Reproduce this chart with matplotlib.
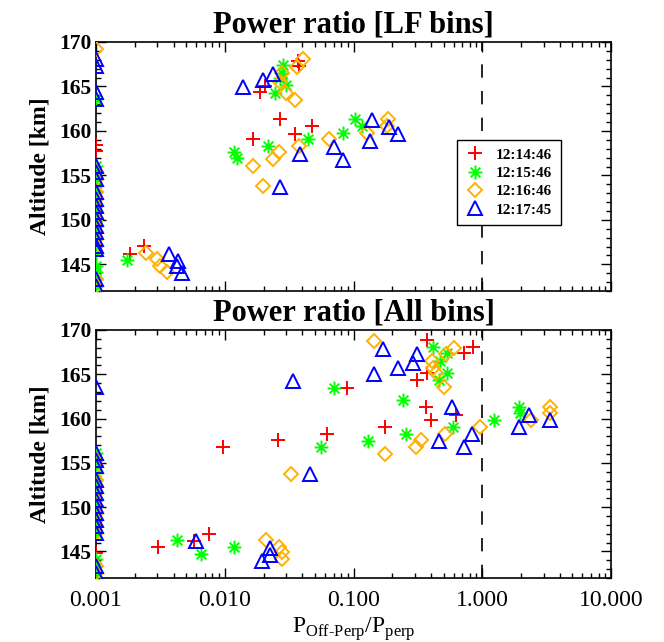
import numpy as np
import matplotlib
matplotlib.use('Agg')
import matplotlib.pyplot as plt
from matplotlib.path import Path
from matplotlib.ticker import MultipleLocator, FixedLocator, LogLocator, NullFormatter

plt.rcParams['font.family'] = 'Liberation Serif'
plt.rcParams['mathtext.fontset'] = 'custom'
plt.rcParams['mathtext.rm'] = 'Liberation Serif'

# values at or below the floor are drawn on the left axis
FLOOR = 0.001

labels = ['12:14:46', '12:15:46', '12:16:46', '12:17:45']

# ---- LF bins (top panel) ----
red_top_alt = [167.9, 167.3, 165.0, 164.4, 161.3, 160.6, 159.7, 159.1, 147.1, 146.2]
red_top_val = [0.0372, 0.038, 0.0206, 0.0188, 0.0269, 0.0473, 0.0351, 0.0167, 0.00236, 0.00184]
red_top_edge = [158.4, 157.7]

green_top_alt = [167.4, 166.5, 165.9, 165.2, 164.3, 161.3, 160.6, 159.8, 159.1, 158.3, 157.6, 156.9, 145.5]
green_top_val = [0.0285, 0.028, 0.027, 0.030, 0.0245, 0.103, 0.116, 0.0824, 0.0446, 0.0218, 0.0118, 0.0124, 0.00173]
green_top_edge = [163.6, 156.1, 155.35, 154.6, 153.85, 153.1, 152.35, 151.6, 150.85, 150.1, 149.35,
                  148.6, 147.85, 147.1, 146.35, 144.85, 144.1, 143.35, 142.6]

orange_top_alt = [168.1, 167.2, 166.5, 165.5, 164.3, 163.5, 161.3, 160.6, 159.8, 159.1, 158.3, 157.6,
                  156.8, 156.1, 153.8, 146.3, 145.6, 144.8, 144.1]
orange_top_val = [0.0403, 0.0362, 0.0277, 0.0269, 0.030, 0.0351, 0.186, 0.181, 0.127, 0.0649, 0.0379,
                  0.0265, 0.0238, 0.0167, 0.0197, 0.00244, 0.00296, 0.00314, 0.00358]
orange_top_edge = [169.2, 155.35, 154.6, 153.1, 152.35, 151.6, 150.85, 150.1, 149.35, 148.6, 147.85,
                   147.1, 143.35, 142.6]

blue_top_alt = [166.4, 165.7, 164.9, 161.2, 160.4, 159.7, 158.9, 158.2, 157.4, 156.7, 153.7,
                146.2, 145.4, 144.8, 144.0]
blue_top_val = [0.0236, 0.0199, 0.0138, 0.138, 0.19, 0.223, 0.134, 0.0706, 0.0384, 0.0834, 0.0269,
                0.00369, 0.00436, 0.00423, 0.00463]
blue_top_edge = [168.1, 167.35, 164.35, 163.6, 156.1, 155.35, 154.6, 153.1, 152.35, 151.6, 150.85,
                 150.1, 149.35, 148.6, 147.85, 147.1, 146.7, 143.35, 142.6]

# ---- All bins (bottom panel) ----
red_bot_alt = [168.9, 168.1, 167.4, 165.2, 164.4, 163.5, 161.3, 160.4, 159.8, 159.1, 158.3, 157.6,
               156.8, 147.0, 146.2, 145.5]
red_bot_val = [0.37, 0.843, 0.72, 0.37, 0.31, 0.0885, 0.366, 0.625, 0.40, 0.175, 0.0627, 0.0258,
               0.00975, 0.00759, 0.0058, 0.00301]
red_bot_edge = [144.85]

green_bot_alt = [168.1, 167.4, 166.5, 165.1, 164.3, 163.5, 162.1, 161.3, 160.6, 159.8, 159.1, 158.3,
                 157.5, 156.8, 146.3, 145.5, 144.7]
green_bot_val = [0.412, 0.53, 0.47, 0.53, 0.458, 0.071, 0.244, 1.94, 1.97, 1.24, 0.589, 0.256,
                 0.130, 0.056, 0.00428, 0.0118, 0.00655]
green_bot_edge = [156.1, 155.35, 154.6, 153.85, 153.1, 152.35, 151.6, 150.85, 150.1, 149.35, 148.6,
                  147.85, 147.1, 144.1, 143.35, 142.6]

orange_bot_alt = [168.8, 168.0, 167.3, 166.5, 165.7, 165.1, 163.6, 161.3, 160.6, 159.8, 159.0, 158.3,
                  157.6, 156.8, 156.0, 153.7, 146.3, 145.5, 144.9, 144.1]
orange_bot_val = [0.143, 0.6, 0.52, 0.405, 0.416, 0.44, 0.50, 3.36, 3.36, 2.38, 0.962, 0.514,
                  0.332, 0.305, 0.175, 0.0327, 0.0209, 0.0265, 0.0277, 0.0277]
orange_bot_edge = [155.35, 154.6, 153.1, 152.35, 151.6, 150.85, 150.1, 149.35, 148.6, 147.85, 147.1,
                   143.35, 142.6]

blue_bot_alt = [167.9, 167.3, 166.3, 165.7, 165.0, 164.2, 161.3, 160.4, 159.8, 159.0, 158.3, 157.5,
                156.8, 153.7, 146.2, 145.4, 144.6, 143.9]
blue_bot_val = [0.169, 0.31, 0.29, 0.223, 0.143, 0.0341, 0.58, 2.31, 3.36, 1.94, 0.826, 0.464,
                0.72, 0.0459, 0.00598, 0.0224, 0.0224, 0.0194]
blue_bot_edge = [163.6, 156.1, 155.35, 154.6, 153.1, 152.35, 151.6, 150.85, 150.1, 149.35, 148.6,
                 147.85, 147.1, 143.35, 142.6]

# IDL style asterisk (plus and cross)
star = Path([(-1, 0), (1, 0), (0, -1), (0, 1), (-0.7, -0.7), (0.7, 0.7), (-0.7, 0.7), (0.7, -0.7)],
            [Path.MOVETO, Path.LINETO] * 4)

styles = [
    dict(marker='+', color='#ff0000', ms=10),
    dict(marker=star, color='#00ff00', ms=10),
    dict(marker='D', color='#ffb000', ms=7.5),
    dict(marker='^', color='#0000ff', ms=10),
]

top_series = [(red_top_alt, red_top_val, red_top_edge),
              (green_top_alt, green_top_val, green_top_edge),
              (orange_top_alt, orange_top_val, orange_top_edge),
              (blue_top_alt, blue_top_val, blue_top_edge)]
bot_series = [(red_bot_alt, red_bot_val, red_bot_edge),
              (green_bot_alt, green_bot_val, green_bot_edge),
              (orange_bot_alt, orange_bot_val, orange_bot_edge),
              (blue_bot_alt, blue_bot_val, blue_bot_edge)]

fig = plt.figure(figsize=(6.64, 6.42), dpi=100)
ax1 = fig.add_axes([0.1446, 0.5467, 0.7756, 0.3879])
ax2 = fig.add_axes([0.1446, 0.0997, 0.7756, 0.3863])


def draw(ax, series, title):
    handles = []
    for (alt, val, edge), st, lab in zip(series, styles, labels):
        h, = ax.plot(val, alt, linestyle='none', marker=st['marker'], ms=st['ms'],
                     mfc='none', mec=st['color'], mew=1.4, label=lab, zorder=3)
        ax.plot([FLOOR] * len(edge), edge, linestyle='none', marker=st['marker'], ms=st['ms'],
                mfc='none', mec=st['color'], mew=1.4, zorder=3)
        handles.append(h)
    ax.axvline(1.0, color='black', lw=1.2, dashes=(8, 8), zorder=1)
    ax.set_xscale('log')
    ax.set_xlim(0.001, 10)
    ax.set_ylim(142, 170)
    ax.yaxis.set_major_locator(MultipleLocator(5))
    ax.yaxis.set_minor_locator(MultipleLocator(1))
    ax.xaxis.set_major_locator(FixedLocator([0.001, 0.01, 0.1, 1, 10]))
    ax.xaxis.set_minor_locator(LogLocator(base=10, subs=np.arange(2, 10)))
    ax.xaxis.set_minor_formatter(NullFormatter())
    ax.tick_params(which='both', direction='in', top=True, right=True, width=1.0)
    ax.tick_params(which='major', length=7.5)
    ax.tick_params(which='minor', length=3.8)
    ax.tick_params(axis='y', labelsize=15.5)
    ax.tick_params(axis='x', pad=9)
    for lab in ax.get_yticklabels():
        lab.set_fontweight('bold')
    for s in ax.spines.values():
        s.set_linewidth(1.2)
    ax.set_ylabel('Altitude [km]', fontsize=17, fontweight='bold', labelpad=6)
    ax.set_title(title, fontsize=22, fontweight='bold', pad=7)
    return handles


handles = draw(ax1, top_series, 'Power ratio [LF bins]')
ax1.set_xticklabels([])
leg = ax1.legend(handles=handles, loc='upper left', bbox_to_anchor=(0.701, 0.608),
                 fancybox=False, framealpha=1, edgecolor='black', borderaxespad=0,
                 prop={'weight': 'bold', 'size': 11}, handlelength=1.3, handletextpad=0.7,
                 labelspacing=0.3, borderpad=0.55)
leg.get_frame().set_linewidth(1.0)
leg.set_zorder(5)

draw(ax2, bot_series, 'Power ratio [All bins]')
ax2.set_xticklabels(['0.001', '0.010', '0.100', '1.000', '10.000'], fontsize=17)
ax2.set_xlabel(r'P$_{\text{Off-Perp}}$/P$_{\mathrm{perp}}$', fontsize=17, labelpad=3)

fig.savefig('out.png', dpi=100)
